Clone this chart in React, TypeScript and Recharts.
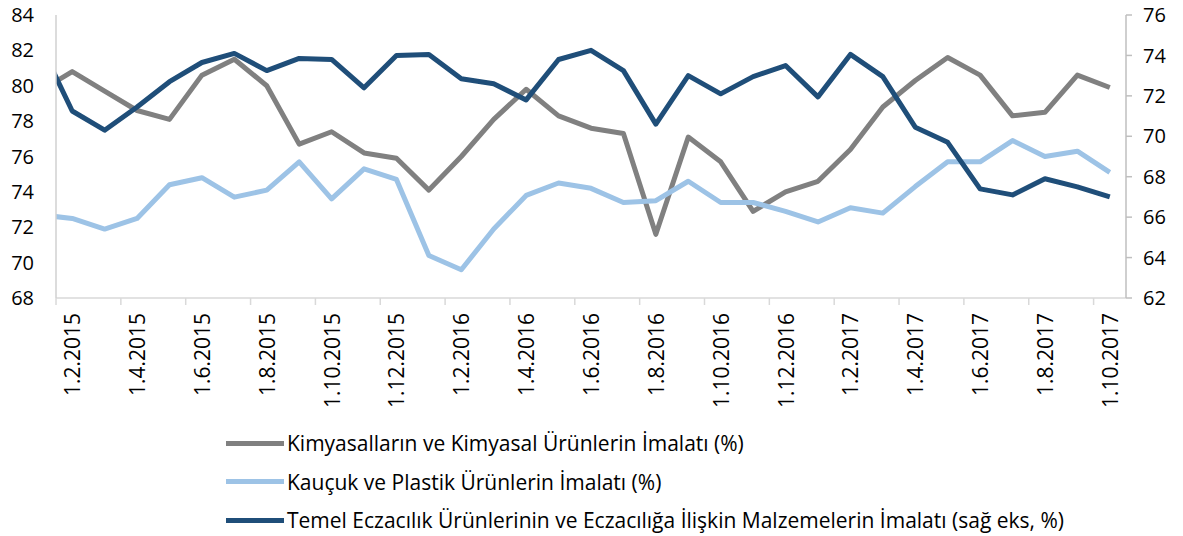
import { LineChart, Line, XAxis, YAxis, Legend } from "recharts";

const dates = [
  "1.1.2015", "1.2.2015", "1.3.2015", "1.4.2015", "1.5.2015", "1.6.2015", "1.7.2015", "1.8.2015",
  "1.9.2015", "1.10.2015", "1.11.2015", "1.12.2015", "1.1.2016", "1.2.2016", "1.3.2016", "1.4.2016",
  "1.5.2016", "1.6.2016", "1.7.2016", "1.8.2016", "1.9.2016", "1.10.2016", "1.11.2016", "1.12.2016",
  "1.1.2017", "1.2.2017", "1.3.2017", "1.4.2017", "1.5.2017", "1.6.2017", "1.7.2017", "1.8.2017",
  "1.9.2017", "1.10.2017",
];

// Kimyasalların ve Kimyasal Ürünlerin İmalatı (%) - sol eksen
const kimya = [
  79.7, 80.8, 79.7, 78.6, 78.1, 80.6, 81.5, 80.0, 76.7, 77.4, 76.2, 75.9, 74.1, 76.0, 78.1, 79.8,
  78.3, 77.6, 77.3, 71.6, 77.1, 75.7, 72.9, 74.0, 74.6, 76.4, 78.8, 80.3, 81.6, 80.6, 78.3, 78.5,
  80.6, 79.9,
];

// Kauçuk ve Plastik Ürünlerin İmalatı (%) - sol eksen
const kaucuk = [
  72.7, 72.5, 71.9, 72.5, 74.4, 74.8, 73.7, 74.1, 75.7, 73.6, 75.3, 74.7, 70.4, 69.6, 71.9, 73.8,
  74.5, 74.2, 73.4, 73.5, 74.6, 73.4, 73.4, 72.9, 72.3, 73.1, 72.8, 74.3, 75.7, 75.7, 76.9, 76.0,
  76.3, 75.1,
];

// Temel Eczacılık Ürünleri... (sağ eksen)
const eczacilik = [
  74.6, 71.25, 70.3, 71.45, 72.7, 73.65, 74.1, 73.25, 73.85, 73.8, 72.4, 74.0, 74.05, 72.85, 72.6, 71.8,
  73.8, 74.25, 73.25, 70.6, 73.0, 72.1, 72.95, 73.5, 71.95, 74.05, 72.95, 70.45, 69.7, 67.4, 67.1, 67.9,
  67.5, 67.0,
];

const leftTicks = [68, 70, 72, 74, 76, 78, 80, 82, 84];
const rightTicks = [62, 64, 66, 68, 70, 72, 74, 76];
const labelTicks = dates.map((_, i) => i).filter((i) => i % 2 === 1);

const data = dates.map((d, i) => ({ i, date: d, kimya: kimya[i], kaucuk: kaucuk[i], eczacilik: eczacilik[i] }));

const series = [
  { key: "kimya", name: "Kimyasalların ve Kimyasal Ürünlerin İmalatı (%)", color: "#808080", axis: "left" },
  { key: "kaucuk", name: "Kauçuk ve Plastik Ürünlerin İmalatı (%)", color: "#9dc3e6", axis: "left" },
  {
    key: "eczacilik",
    name: "Temel Eczacılık Ürünlerinin ve Eczacılığa İlişkin Malzemelerin İmalatı (sağ eks, %)",
    color: "#1f4e79",
    axis: "right",
  },
];

const FONT = "'Open Sans', sans-serif";
const HALF_STEP = 16.2;

const DateTick = (props: any) => {
  const { x, y, payload } = props;
  return (
    <g>
      <line x1={x - HALF_STEP} y1={y} x2={x - HALF_STEP} y2={y + 7} stroke="#d9d9d9" strokeWidth={1.5} />
      <text
        x={x}
        y={y + 15}
        textAnchor="end"
        dominantBaseline="central"
        fontSize={21}
        fontFamily={FONT}
        fill="#000"
        transform={`rotate(-90, ${x}, ${y + 15})`}
      >
        {dates[payload.value]}
      </text>
    </g>
  );
};

const LegendBox = () => (
  <div style={{ fontFamily: FONT, fontSize: 21, color: "#000" }}>
    {series.map((s) => (
      <div key={s.key} style={{ display: "flex", alignItems: "center", height: 38.5, whiteSpace: "nowrap" }}>
        <div style={{ width: 58, height: 5, background: s.color, marginRight: 3 }} />
        <span>{s.name}</span>
      </div>
    ))}
  </div>
);

export default function App() {
  return (
    <div style={{ position: "absolute", left: 0, top: 0, background: "#fff" }}>
      <LineChart width={1183} height={536} data={data} margin={{ top: 15, right: 0, left: 0, bottom: 0 }}>
        <XAxis
          dataKey="i"
          type="number"
          domain={[0.5, 33.5]}
          allowDataOverflow
          ticks={labelTicks}
          interval={0}
          tick={<DateTick />}
          tickLine={false}
          tickSize={0}
          tickMargin={0}
          height={238}
          axisLine={{ stroke: "#d9d9d9", strokeWidth: 1.5 }}
        />
        <YAxis
          yAxisId="left"
          orientation="left"
          domain={[68, 84]}
          ticks={leftTicks}
          interval={0}
          width={56}
          tickLine={false}
          tickSize={0}
          tickMargin={22}
          axisLine={{ stroke: "#d0d0d0", strokeWidth: 1.5 }}
          tick={{ fontSize: 20, fontFamily: FONT, fill: "#000" }}
        />
        <YAxis
          yAxisId="right"
          orientation="right"
          domain={[62, 76]}
          ticks={rightTicks}
          interval={0}
          width={57}
          tickSize={6}
          tickMargin={11}
          tickLine={{ stroke: "#bfbfbf", strokeWidth: 1.5 }}
          axisLine={{ stroke: "#bfbfbf", strokeWidth: 1.5 }}
          tick={{ fontSize: 20, fontFamily: FONT, fill: "#000", textAnchor: "start" }}
        />
        {series.map((s) => (
          <Line
            key={s.key}
            yAxisId={s.axis}
            dataKey={s.key}
            name={s.name}
            stroke={s.color}
            strokeWidth={5}
            dot={false}
            activeDot={false}
            strokeLinejoin="round"
            isAnimationActive={false}
          />
        ))}
        <Legend
          layout="vertical"
          align="center"
          verticalAlign="middle"
          content={<LegendBox />}
          wrapperStyle={{ left: 226, top: 424, width: "auto", height: "auto" }}
        />
      </LineChart>
    </div>
  );
}
